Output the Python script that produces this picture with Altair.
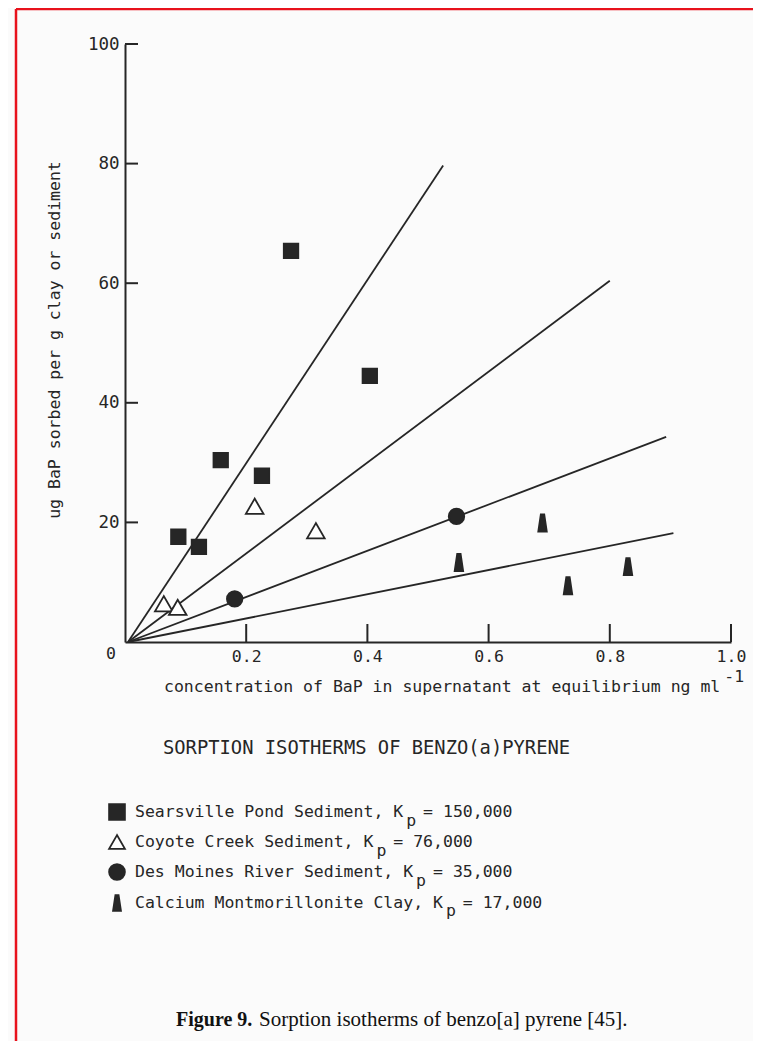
import altair as alt
import pandas as pd

# ---------------- data ----------------
series_names = ["Searsville Pond Sediment", "Coyote Creek Sediment",
                "Des Moines River Sediment", "Calcium Montmorillonite Clay"]
kp_values = [150000, 76000, 35000, 17000]

searsville_x = [0.088, 0.122, 0.158, 0.226, 0.274, 0.404]
searsville_y = [17.6, 15.9, 30.4, 27.8, 65.4, 44.5]
coyote_x = [0.064, 0.087, 0.214, 0.315]
coyote_y = [6.4, 5.8, 22.7, 18.6]
desmoines_x = [0.181, 0.547]
desmoines_y = [7.2, 21.0]
clay_x = [0.551, 0.689, 0.731, 0.830]
clay_y = [13.3, 19.9, 9.4, 12.6]

# fitted isotherm lines (start and end point of each)
line_x0 = [0.005, 0.005, 0.005, 0.005]
line_y0 = [0.0, 0.0, 0.0, 0.0]
line_x1 = [0.525, 0.800, 0.893, 0.905]
line_y1 = [79.7, 60.4, 34.3, 18.2]

x_tick_values = [0.2, 0.4, 0.6, 0.8, 1.0]
y_tick_values = [20, 40, 60, 80, 100]

y_title = "ug BaP sorbed per g clay or sediment"
x_title = "concentration of BaP in supernatant at equilibrium ng ml"
x_title_sup = "-1"
sub_title = "SORPTION ISOTHERMS OF BENZO(a)PYRENE"
caption_bold = "Figure 9."
caption_rest = "Sorption isotherms of benzo[a] pyrene [45]."

# ---------------- styling ----------------
INK = "#262626"
MONO = "DejaVu Sans Mono"
SERIF = "Liberation Serif"
FS = 16.5
CW = 0.602 * FS
NB = "\u00a0"
W, H = 606, 598
ROW = 30

legend_labels = [f"{n}, K{NB}{NB}= {k:,}" for n, k in zip(series_names, kp_values)]
clay_path = "M-0.2,-1L0.2,-1L0.5,1L-0.5,1Z"
shape_range = ["square", "triangle-up", "circle", clay_path]
fill_range = [INK, "#ffffff", INK, INK]
stroke_range = [INK, INK, INK, INK]
size_range = [210, 310, 240, 290]

one = pd.DataFrame({"a": [0]})

xaxis = alt.Axis(values=x_tick_values, format=".1f", title=None, ticks=False, tickSize=0,
                 grid=False, domainColor=INK, domainWidth=2, labelFont=MONO,
                 labelFontSize=FS, labelColor=INK, labelPadding=6, labelFlush=False,
                 labelOverlap=False)
yaxis = alt.Axis(values=y_tick_values, title=None, ticks=False, tickSize=0,
                 grid=False, domainColor=INK, domainWidth=2, labelFont=MONO,
                 labelFontSize=17.5, labelColor=INK, labelPadding=6, labelFlush=False,
                 labelOverlap=False)
xsc = alt.Scale(domain=[0, 1], nice=False, zero=False)
ysc = alt.Scale(domain=[0, 100], nice=False)
X = alt.X("x:Q", scale=xsc, axis=xaxis)
Y = alt.Y("y:Q", scale=ysc, axis=yaxis)

leg = alt.Legend(title=None, orient="none", legendX=-17, legendY=759,
                 labelFont=MONO, labelFontSize=FS, labelColor=INK, labelOffset=9,
                 labelLimit=700, symbolSize=250, symbolStrokeColor=INK,
                 symbolStrokeWidth=1.8, rowPadding=7, padding=0)
SHAPE = alt.Shape("series:N", scale=alt.Scale(domain=legend_labels, range=shape_range),
                  legend=leg)
FILL = alt.Fill("series:N", scale=alt.Scale(domain=legend_labels, range=fill_range),
                legend=leg)
STROKE = alt.Stroke("series:N", scale=alt.Scale(domain=legend_labels, range=stroke_range),
                    legend=leg)

lrows = []
for i in range(len(series_names)):
    lrows.append({"line": i, "x": line_x0[i], "y": line_y0[i]})
    lrows.append({"line": i, "x": line_x1[i], "y": line_y1[i]})
lines = alt.Chart(pd.DataFrame(lrows)).mark_line(color=INK, strokeWidth=1.8).encode(
    x=X, y=Y, detail=alt.Detail("line:N"))

xticks = alt.Chart(pd.DataFrame({"x": x_tick_values})).mark_rule(
    color=INK, strokeWidth=2).encode(x=X, y=alt.value(H), y2=alt.value(H - 18))
yticks = alt.Chart(pd.DataFrame({"y": y_tick_values})).mark_rule(
    color=INK, strokeWidth=2).encode(y=Y, x=alt.value(0), x2=alt.value(13))

zero_lab = alt.Chart(pd.DataFrame({"x": [0], "y": [0], "t": ["0"]})).mark_text(
    dx=-14, dy=12, font=MONO, fontSize=FS, color=INK).encode(x=X, y=Y, text="t:N")

point_layers = []
for lab, sz, xs_, ys_ in zip(legend_labels, size_range,
                             [searsville_x, coyote_x, desmoines_x, clay_x],
                             [searsville_y, coyote_y, desmoines_y, clay_y]):
    df = pd.DataFrame({"series": [lab] * len(xs_), "x": xs_, "y": ys_})
    point_layers.append(
        alt.Chart(df).mark_point(filled=True, strokeWidth=1.8, opacity=1, size=sz).encode(
            x=X, y=Y, shape=SHAPE, fill=FILL, stroke=STROKE))


def label(txt, x, y, **kw):
    return alt.Chart(one).mark_text(text=txt, **kw).encode(x=alt.value(x), y=alt.value(y))


texts = [
    label(y_title, -65, 296, angle=270, align="center", baseline="alphabetic",
          font=MONO, fontSize=FS, color=INK),
    label(x_title, 39, 648, align="left", baseline="alphabetic", font=MONO,
          fontSize=FS, color=INK),
    label(x_title_sup, 39 + (len(x_title) + 0.4) * CW, 638, align="left",
          baseline="alphabetic", font=MONO, fontSize=FS, color=INK),
    label(sub_title, 38, 704, align="left", baseline="middle", font=MONO,
          fontSize=18.8, color=INK),
    label(caption_bold, 51, 976, align="left", baseline="middle", font=SERIF,
          fontSize=20, fontWeight="bold", color="#111111"),
    label(caption_rest, 134, 976, align="left", baseline="middle", font=SERIF,
          fontSize=21, color="#111111"),
]
for i, n in enumerate(series_names):
    texts.append(label("p", 8 + len(n + ", K") * CW + 5, 767 + ROW * i + 10,
                       align="left", baseline="middle", font=MONO, fontSize=FS,
                       color=INK))

frame = [
    alt.Chart(one).mark_rule(color="#e8121c", strokeWidth=2.5).encode(
        x=alt.value(-109), y=alt.value(-35), y2=alt.value(1005)),
    alt.Chart(one).mark_rule(color="#e8121c", strokeWidth=2.5).encode(
        x=alt.value(-109), x2=alt.value(628), y=alt.value(-35)),
]

chart = alt.layer(lines, xticks, yticks, zero_lab, *point_layers, *texts, *frame).properties(
    width=W, height=H,
    padding={"left": 117, "top": 36, "right": 22, "bottom": 399},
    autosize=alt.AutoSizeParams(type="none"),
    background="#fbfbfb",
).configure_view(stroke=None)

chart.save("out.html", embed_options={"renderer": "svg", "actions": False})
